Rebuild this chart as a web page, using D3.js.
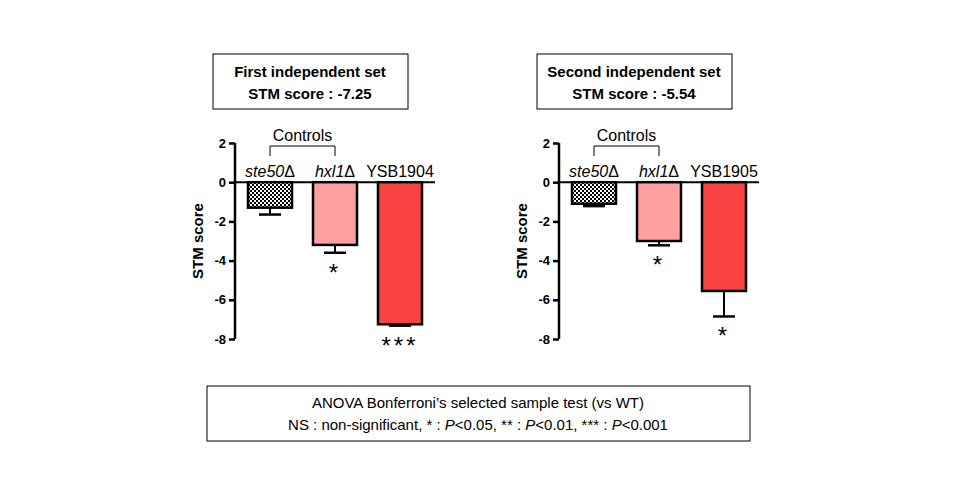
<!DOCTYPE html>
<html><head><meta charset="utf-8">
<script src="https://cdn.jsdelivr.net/npm/d3@7"></script>
<style>body{margin:0;background:#fff}text{font-family:"Liberation Sans",Arial,sans-serif}</style>
</head><body><svg id="c" width="960" height="500"></svg>
<script>
var categories1 = ['ste50Δ', 'hxl1Δ', 'YSB1904'];
var categories2 = ['ste50Δ', 'hxl1Δ', 'YSB1905'];
var values1 = [-1.3, -3.2, -7.25];
var errors1 = [0.35, 0.4, 0.07];
var values2 = [-1.1, -3.0, -5.55];
var errors2 = [0.12, 0.22, 1.3];
var stars1 = ['', '*', '***'];
var stars2 = ['', '*', '*'];
var titles = [['First independent set', 'STM score : -7.25'], ['Second independent set', 'STM score : -5.54']];
var yTicks = [2, 0, -2, -4, -6, -8];

var svg = d3.select('#c');
var defs = svg.append('defs');
var pat = defs.append('pattern').attr('id','chk').attr('width',4).attr('height',4).attr('patternUnits','userSpaceOnUse');
pat.append('rect').attr('width',4).attr('height',4).attr('fill','#fff');
pat.append('rect').attr('width',2).attr('height',2).attr('fill','#000');
pat.append('rect').attr('x',2).attr('y',2).attr('width',2).attr('height',2).attr('fill','#000');
var fills = ['url(#chk)', '#ff9f9f', '#f94343'];

function panel(ox, cats, vals, errs, stars, title) {
  var y = d3.scaleLinear().domain([2, -8]).range([143, 339]);
  var x = d3.scaleBand().domain(cats).range([ox + 13, ox + 187]).paddingInner(0.323).paddingOuter(0);
  // title box
  svg.append('rect').attr('x', ox - 22).attr('y', 54).attr('width', 195).attr('height', 55)
    .attr('fill', 'none').attr('stroke', '#000').attr('stroke-width', 1);
  title.forEach(function(t, i){
    svg.append('text').attr('x', ox + 75).attr('y', 77 + i*22).attr('text-anchor','middle')
      .attr('font-size', 15).attr('font-weight','bold').text(t);
  });
  var ax = svg.append('g').attr('transform','translate(' + ox + ',0)')
    .call(d3.axisLeft(y).tickValues(yTicks).tickSize(6).tickFormat(function(d){ return String(d); }));
  ax.select('.domain').attr('stroke-width', 2.5).attr('d', 'M0,' + y(2) + 'V' + y(-8));
  ax.selectAll('.tick line').attr('stroke-width', 2.5);
  ax.selectAll('.tick text').attr('font-size', 13).attr('font-weight','bold').attr('font-family','Liberation Sans, Arial');
  svg.append('line').attr('x1', ox).attr('x2', ox + 200).attr('y1', y(0)).attr('y2', y(0)).attr('stroke','#000').attr('stroke-width', 2);
  svg.append('text').attr('transform','translate(' + (ox - 32) + ',' + y(-3) + ') rotate(-90)')
    .attr('text-anchor','middle').attr('font-size', 15).attr('font-weight','bold').text('STM score');
  cats.forEach(function(c, i){
    var bx = x(c), bw = x.bandwidth(), cx = bx + bw/2;
    var ey = y(vals[i] - errs[i]);
    svg.append('line').attr('x1', cx).attr('x2', cx).attr('y1', y(vals[i])).attr('y2', ey).attr('stroke','#000').attr('stroke-width', 2);
    svg.append('line').attr('x1', cx - 11).attr('x2', cx + 11).attr('y1', ey).attr('y2', ey).attr('stroke','#000').attr('stroke-width', 2.5);
    svg.append('rect').attr('x', bx).attr('y', y(0)).attr('width', bw).attr('height', y(vals[i]) - y(0))
      .attr('fill', fills[i]).attr('stroke','#000').attr('stroke-width', 2.5);
    var lab = svg.append('text').attr('x', cx).attr('y', 177).attr('text-anchor','middle').attr('font-size', 16);
    if (i < 2) lab.append('tspan').attr('font-style','italic').text(c.slice(0, -1)), lab.append('tspan').text('Δ');
    else lab.text(c);
    if (stars[i]) svg.append('text').attr('x', cx).attr('y', ey + 28).attr('text-anchor','middle')
      .attr('font-size', 24).attr('letter-spacing', 3).text(stars[i]);
  });
  var c0 = x(cats[0]) + x.bandwidth()/2, c1 = x(cats[1]) + x.bandwidth()/2;
  svg.append('path').attr('d', 'M' + c0 + ',156V146H' + c1 + 'V156').attr('fill','none').attr('stroke','#000').attr('stroke-width', 1);
  svg.append('text').attr('x', (c0 + c1)/2).attr('y', 141).attr('text-anchor','middle').attr('font-size', 16).text('Controls');
}
panel(235, categories1, values1, errors1, stars1, titles[0]);
panel(559, categories2, values2, errors2, stars2, titles[1]);

svg.append('rect').attr('x', 207).attr('y', 386).attr('width', 543).attr('height', 55)
  .attr('fill','none').attr('stroke','#000').attr('stroke-width', 1);
svg.append('text').attr('x', 478).attr('y', 408).attr('text-anchor','middle').attr('font-size', 15)
  .text('ANOVA Bonferroni\u2019s selected sample test (vs WT)');
var n = svg.append('text').attr('x', 478).attr('y', 430).attr('text-anchor','middle').attr('font-size', 15);
n.append('tspan').text('NS : non-significant, * : ');
n.append('tspan').attr('font-style','italic').text('P');
n.append('tspan').text('<0.05, ** : ');
n.append('tspan').attr('font-style','italic').text('P');
n.append('tspan').text('<0.01, *** : ');
n.append('tspan').attr('font-style','italic').text('P');
n.append('tspan').text('<0.001');
</script></body></html>
